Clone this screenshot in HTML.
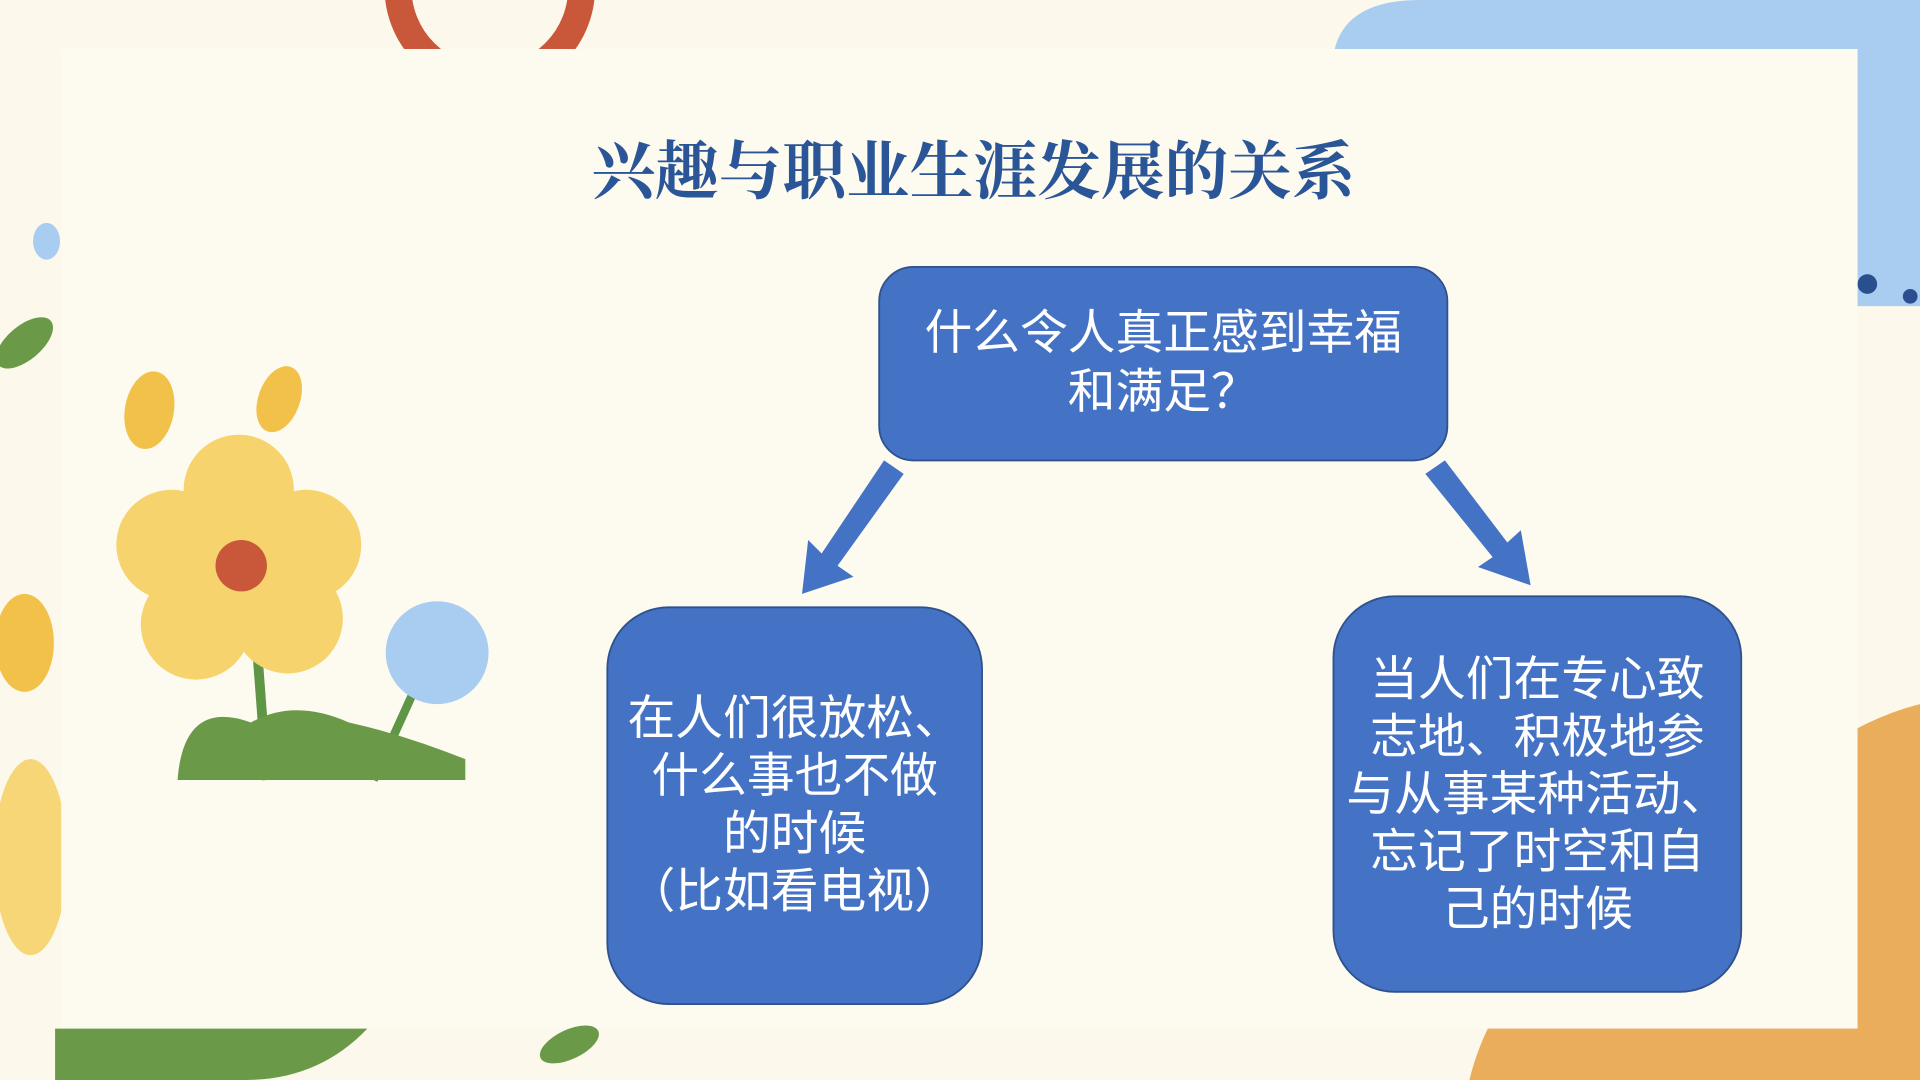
<!DOCTYPE html>
<html><head><meta charset="utf-8"><style>
html,body{margin:0;padding:0;width:1920px;height:1080px;overflow:hidden;background:#fcf8ec}
#w{position:absolute;left:0;top:0;width:1568px;height:882px;transform:scale(1.22449);transform-origin:0 0}
.t{position:absolute;font-family:"Liberation Sans","Noto Sans CJK SC",sans-serif;color:#fff;text-align:center}
</style></head><body><div id="w">
<svg width="1568" height="882" style="position:absolute;left:0;top:0">
<rect width="1568" height="882" fill="#fcf8ec"/>
<circle cx="400" cy="-10" r="75" fill="none" stroke="#c9573a" stroke-width="22"/>
<path d="M1090 40 Q1100 0 1160 0 L1568 0 L1568 250 L1517 250 L1517 40 Z" fill="#a9cdf0"/>
<circle cx="1525" cy="232" r="8" fill="#2a4f8f"/><circle cx="1560" cy="242" r="6" fill="#2a4f8f"/>
<ellipse cx="38" cy="197" rx="11" ry="15" fill="#a9cdf0"/>
<ellipse cx="20" cy="280" rx="28" ry="14" fill="#6a9a48" transform="rotate(-40 20 280)"/>
<ellipse cx="20" cy="525" rx="24" ry="40" fill="#f2c14a"/>
<ellipse cx="25" cy="700" rx="30" ry="80" fill="#f6d677"/>
<path d="M1200 882 Q1230 760 1380 720 Q1470 600 1568 575 L1568 882 Z" fill="#e9ad5c"/>
<rect x="50" y="40" width="1467" height="800" fill="#fdfaf0"/>
<path d="M45 840 L300 840 Q260 882 200 882 L45 882 Z" fill="#6a9a48"/>
<ellipse cx="465" cy="853" rx="26" ry="12" fill="#6a9a48" transform="rotate(-25 465 853)"/>
<ellipse cx="122" cy="335" rx="20" ry="32" fill="#f2c14a" transform="rotate(10 122 335)"/>
<ellipse cx="228" cy="326" rx="17" ry="28" fill="#f2c14a" transform="rotate(20 228 326)"/>
<line x1="210" y1="530" x2="218" y2="637" stroke="#5f9646" stroke-width="8"/>
<line x1="340" y1="560" x2="305" y2="637" stroke="#5f9646" stroke-width="7"/>
<path d="M145 637 Q150 570 205 590 Q240 570 285 590 Q330 600 380 620 L380 637 Z" fill="#6a9a48"/>
<g fill="#f6d36c">
<circle cx="195" cy="400" r="45"/><circle cx="140" cy="445" r="45"/><circle cx="250" cy="445" r="45"/>
<circle cx="160" cy="510" r="45"/><circle cx="235" cy="505" r="45"/><circle cx="195" cy="462" r="50"/>
</g>
<circle cx="197" cy="462" r="21" fill="#c9573a"/>
<circle cx="357" cy="533" r="42" fill="#a9cdf0"/>
<polygon points="722,376 738,387 684,462 697,471 655,485 660,441 671,452" fill="#4472c4"/>
<polygon points="1164,387 1180,376 1231,443 1242,433 1250,478 1207,463 1219,455" fill="#4472c4"/>
<rect x="718" y="218" width="464" height="158" rx="28" fill="#4472c4" stroke="#2f528f" stroke-width="1.5"/>
<rect x="496" y="496" width="306" height="324" rx="50" fill="#4472c4" stroke="#2f528f" stroke-width="1.5"/>
<rect x="1089" y="487" width="333" height="323" rx="50" fill="#4472c4" stroke="#2f528f" stroke-width="1.5"/>
</svg>
<div class="t" style="left:395px;top:111px;width:800px;font-size:52px;font-weight:bold;color:#2a5597;font-family:'Liberation Serif','Noto Serif CJK SC',serif;line-height:62px">兴趣与职业生涯发展的关系</div>
<div class="t" style="left:718px;top:249px;width:464px;font-size:39px;line-height:48px">什么令人真正感到幸福<br>和满足？</div>
<div class="t" style="left:486px;top:564px;width:326px;font-size:39px;line-height:47px">在人们很放松、<br>什么事也不做<br>的时候<br>（比如看电视）</div>
<div class="t" style="left:1079px;top:532px;width:353px;font-size:39px;line-height:47px">当人们在专心致<br>志地、积极地参<br>与从事某种活动、<br>忘记了时空和自<br>己的时候</div>
</div></body></html>
